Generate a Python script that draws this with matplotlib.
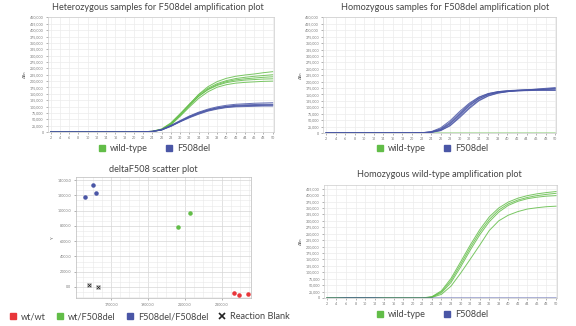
import matplotlib.pyplot as plt
from matplotlib.lines import Line2D
from matplotlib.ticker import MultipleLocator, FixedLocator, FuncFormatter

plt.rcParams['font.family'] = ['Lato', 'DejaVu Sans']

green, blue, red = '#62bd48', '#4a56a6', '#e8363a'

# cycles and fluorescence (thousands)
cycles = [2, 4, 6, 8, 10, 12, 14, 16, 18, 20, 22, 24, 26, 28, 30, 32, 34, 36, 38, 40, 42, 44, 46, 48, 50]

het_wt = [
    [0, 1, 2, 2, 1, 0, 0, 0, 0, 0, 0, 2, 10, 32, 68, 108, 148, 178, 198, 211, 219, 224, 228, 233, 237],
    [0, 0, 1, 1, 1, 0, 0, 0, 0, 0, 1, 3, 12, 36, 72, 110, 146, 172, 190, 202, 210, 215, 219, 222, 225],
    [0, 0, 1, 2, 1, 0, 0, 0, 0, 0, 0, 2, 9, 30, 64, 102, 140, 168, 186, 198, 205, 209, 212, 215, 217],
    [0, 1, 1, 1, 0, 0, 0, 0, 0, 0, 0, 3, 11, 34, 70, 106, 141, 166, 183, 194, 200, 204, 206, 208, 209],
    [0, 0, 1, 1, 1, 0, 0, 0, 0, 0, 1, 2, 8, 28, 62, 98, 132, 158, 176, 186, 192, 195, 197, 199, 200],
]
het_del = [
    [0, 0, 0, 0, 0, 0, 0, 0, 0, 0, 1, 3, 10, 26, 45, 63, 78, 90, 99, 105, 109, 111, 113, 114, 115],
    [0, 0, 0, 0, 0, 0, 0, 0, 0, 0, 1, 3, 9, 24, 42, 59, 74, 86, 95, 101, 105, 107, 108, 109, 109],
    [0, 0, 0, 0, 0, 0, 0, 0, 0, 0, 0, 2, 8, 22, 40, 56, 70, 82, 90, 96, 99, 100, 101, 102, 102],
    [0, 0, 0, 0, 0, 0, 0, 0, 0, 0, 1, 2, 9, 25, 43, 61, 76, 87, 95, 100, 103, 104, 105, 106, 106],
    [0, 0, 0, 0, 0, 0, 0, 0, 0, 0, 0, 2, 8, 23, 41, 58, 72, 84, 92, 98, 101, 103, 104, 105, 106],
]
hom_wt = [
    [0, 1, 1, 1, 1, 1, 0, 0, 0, 0, 0, 0, 0, 0, 0, 0, 0, 0, 0, 0, 0, 0, 0, 0, 0],
]
hom_del = [
    [0, 0, 0, 0, 0, 0, 0, 0, 0, 0, 1, 4, 16, 42, 78, 112, 138, 153, 161, 165, 167, 168, 169, 170, 171],
    [0, 0, 0, 0, 0, 0, 0, 0, 0, 0, 1, 3, 12, 35, 70, 105, 133, 150, 159, 163, 166, 168, 170, 172, 174],
    [0, 0, 0, 0, 0, 0, 0, 0, 0, 0, 0, 3, 10, 30, 64, 99, 128, 146, 156, 161, 164, 166, 168, 170, 172],
    [0, 0, 0, 0, 0, 0, 0, 0, 0, 0, 1, 5, 20, 48, 84, 116, 140, 154, 161, 164, 166, 167, 167, 167, 167],
    [0, 0, 0, 0, 0, 0, 0, 0, 0, 0, 1, 4, 14, 38, 73, 108, 134, 150, 158, 162, 164, 165, 166, 166, 166],
    [0, 0, 0, 0, 0, 0, 0, 0, 0, 0, 0, 2, 9, 28, 60, 95, 125, 144, 155, 161, 165, 168, 171, 174, 177],
]
wt_wt = [
    [0, 0, 1, 2, 1, 0, 0, 0, 0, 0, 0, 5, 28, 76, 140, 205, 265, 315, 350, 373, 388, 398, 405, 410, 414],
    [0, 0, 1, 1, 1, 0, 0, 0, 0, 0, 0, 4, 24, 68, 130, 195, 255, 305, 342, 366, 381, 391, 398, 403, 407],
    [0, 0, 1, 1, 1, 0, 0, 0, 0, 0, 0, 3, 20, 60, 120, 185, 245, 296, 334, 360, 376, 386, 392, 396, 398],
    [0, 0, 1, 1, 0, 0, 0, 0, 0, 0, 0, 2, 14, 46, 96, 150, 205, 262, 300, 322, 336, 346, 351, 355, 357],
]
wt_del = [
    [0, 0, 1, 1, 1, 1, 0, 0, 0, 0, 0, 0, 0, 0, 0, 0, 0, 0, 0, 0, 0, 0, 0, 0, 0],
]

# scatter (allele 1 vs allele 2)
scatter_xticks = [17000, 19000, 21000, 23000]
wtwt_x = [23670, 23940, 24440]
wtwt_y = [-790, -1050, -920]
het_x = [21280, 20610]
het_y = [9690, 7850]
deldel_x = [16000, 16170, 15610]
deldel_y = [13350, 12300, 11780]
blank_x = [15780, 16280]
blank_y = [260, 0]

fig = plt.figure(figsize=(5.76, 3.26), dpi=100)


def square(col):
    return Line2D([], [], ls='', marker='s', ms=5, color=col)


def amp_axes(rect, groups, title, tx, ty, lx, ly, ytop, ymax):
    ax = fig.add_axes(rect)
    for curves, col in groups:
        for c in curves:
            ax.plot(cycles, [v * 1000 for v in c], color=col, lw=0.7, alpha=0.85)
    ax.set_xlim(1.4, 50.2)
    ax.set_ylim(0, ymax)
    ax.set_xticks(cycles)
    ax.set_yticks(range(0, ytop + 1, 25000))
    ax.yaxis.set_major_formatter(FuncFormatter(lambda v, p: '{:,.0f}'.format(v)))
    ax.tick_params(labelsize=2.6, colors='#777777', length=1.5, width=0.4, pad=1.5)
    ax.grid(color='#ececec', lw=0.5)
    for s in ax.spines.values():
        s.set_color('#cccccc')
        s.set_linewidth(0.5)
    ax.set_ylabel('ΔRn', fontsize=3, color='#555555', labelpad=2)
    fig.text(tx, ty, title, ha='center', va='center', fontsize=6.6, color='#444444')
    fig.legend([square(green), square(blue)], ['wild-type', 'F508del'], loc='center',
               bbox_to_anchor=(lx, ly), ncol=2, frameon=False, fontsize=6.6, handlelength=1.0,
               handletextpad=0.4, columnspacing=1.8, labelcolor='#444444')
    return ax


amp_axes([0.083, 0.595, 0.392, 0.353], [(het_wt, green), (het_del, blue)],
         'Heterozygous samples for F508del amplification plot', 0.274, 0.978, 0.267, 0.543, 450000, 452000)
amp_axes([0.561, 0.592, 0.4045, 0.356], [(hom_wt, green), (hom_del, blue)],
         'Homozygous samples for F508del amplification plot', 0.773, 0.978, 0.75, 0.543, 450000, 452000)
amp_axes([0.5625, 0.086, 0.4045, 0.347], [(wt_wt, green), (wt_del, blue)],
         'Homozygous wild-type amplification plot', 0.762, 0.466, 0.75, 0.034, 425000, 440000)

# scatter plot
ax = fig.add_axes([0.132, 0.086, 0.304, 0.371])
ax.scatter(wtwt_x, wtwt_y, s=5, color=red, zorder=3)
ax.scatter(het_x, het_y, s=5, color=green, zorder=3)
ax.scatter(deldel_x, deldel_y, s=5, color=blue, zorder=3)
ax.scatter(blank_x, blank_y, s=9, marker='s', facecolor='#eeeeee', edgecolor='#999999', lw=0.4, zorder=3)
ax.scatter(blank_x, blank_y, s=4, marker='x', color='#222222', lw=0.6, zorder=4)
ax.set_xlim(15100, 24600)
ax.set_ylim(-1440, 14400)
ax.xaxis.set_major_locator(FixedLocator(scatter_xticks))
ax.xaxis.set_minor_locator(MultipleLocator(500))
ax.yaxis.set_major_locator(MultipleLocator(2000))
ax.yaxis.set_minor_locator(MultipleLocator(2000 / 3))
ax.xaxis.set_major_formatter(FuncFormatter(lambda v, p: '{:.1f}'.format(v)))
ax.yaxis.set_major_formatter(FuncFormatter(lambda v, p: '{:.1f}'.format(v)))
ax.tick_params(labelsize=2.6, colors='#777777', length=1.5, width=0.4, pad=2)
ax.tick_params(which='minor', length=0)
ax.grid(which='major', color='#d6d6d6', lw=0.5)
ax.grid(which='minor', color='#e8e8e8', lw=0.4)
for s in ax.spines.values():
    s.set_color('#bbbbbb')
    s.set_linewidth(0.5)
ax.set_ylabel('Y', fontsize=3, color='#555555', labelpad=2)
fig.text(0.266, 0.479, 'deltaF508 scatter plot', ha='center', va='center', fontsize=6.6, color='#444444')
h = [square(red), square(green), square(blue),
     Line2D([], [], ls='', marker='x', ms=5, mew=1.2, color='#222222')]
fig.legend(h, ['wt/wt', 'wt/F508del', 'F508del/F508del', 'Reaction Blank'], loc='center',
           bbox_to_anchor=(0.259, 0.028), ncol=4, frameon=False, fontsize=6.6, handlelength=1.0,
           handletextpad=0.4, columnspacing=1.0, labelcolor='#444444')

fig.savefig('out.png', dpi=100, facecolor='white')
